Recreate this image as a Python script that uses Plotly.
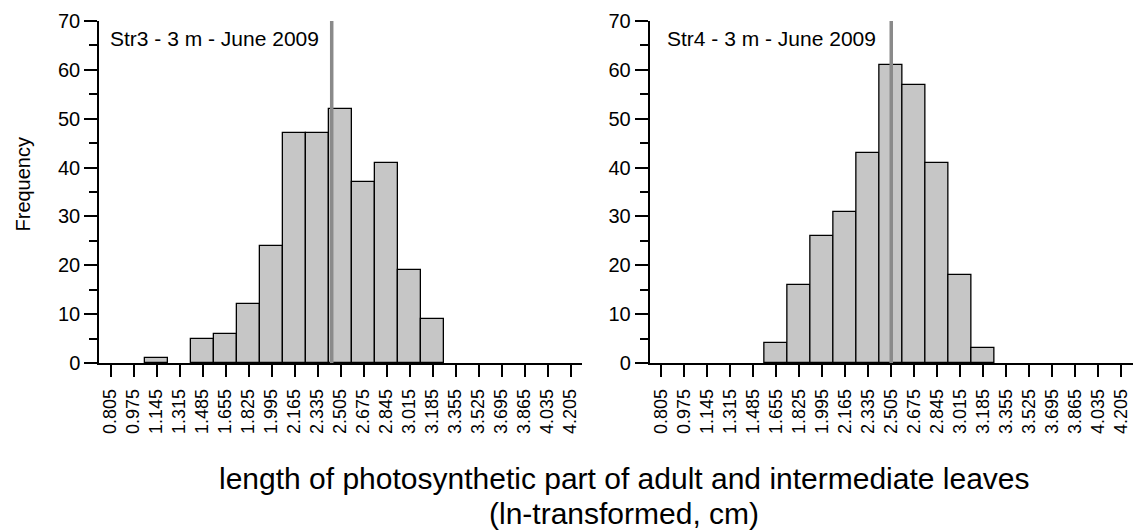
import plotly.graph_objects as go

# ---- data ----
bin_centers = [0.805, 0.975, 1.145, 1.315, 1.485, 1.655, 1.825, 1.995, 2.165, 2.335, 2.505,
               2.675, 2.845, 3.015, 3.185, 3.355, 3.525, 3.695, 3.865, 4.035, 4.205]
tick_labels = ["0.805", "0.975", "1.145", "1.315", "1.485", "1.655", "1.825", "1.995", "2.165",
               "2.335", "2.505", "2.675", "2.845", "3.015", "3.185", "3.355", "3.525", "3.695",
               "3.865", "4.035", "4.205"]
freq_str3 = [0, 0, 1, 0, 5, 6, 12, 24, 47, 47, 52, 37, 41, 19, 9, 0, 0, 0, 0, 0, 0]
freq_str4 = [0, 0, 0, 0, 0, 4, 16, 26, 31, 43, 61, 57, 41, 18, 3, 0, 0, 0, 0, 0, 0]
mean_lines = [2.44, 2.505]
panel_labels = ["Str3 - 3 m - June 2009", "Str4 - 3 m - June 2009"]
bin_width = 0.17

FONT = "Liberation Sans, Arial, sans-serif"
W, H = 1133, 531
ML, MR, MT, MB = 0, 0, 21, 168
plot_h = H - MT - MB

fig = go.Figure()
for i, (freq, xa, ya) in enumerate([(freq_str3, "x", "y"), (freq_str4, "x2", "y2")]):
    fig.add_trace(go.Bar(
        x=bin_centers, y=[v if v > 0 else None for v in freq], width=bin_width,
        marker=dict(color="#c6c6c6", line=dict(color="black", width=1.3)),
        xaxis=xa, yaxis=ya, showlegend=False, hoverinfo="skip",
    ))

xcommon = dict(range=[0.72, 4.29], tickvals=bin_centers, ticktext=tick_labels,
               tickangle=-90, ticks="outside", ticklen=12, tickwidth=1.5, tickcolor="black",
               showline=True, linecolor="black", linewidth=1.5, showgrid=False, zeroline=False,
               tickfont=dict(family=FONT, size=18, color="black"), ticklabelstandoff=5,
               automargin=False, fixedrange=True)
ycommon = dict(range=[0, 70], dtick=10, ticks="outside", ticklen=13, tickwidth=1.5,
               tickcolor="black", showline=True, linecolor="black", linewidth=1.5,
               showgrid=False, zeroline=False,
               minor=dict(dtick=5, ticks="outside", ticklen=8, tickwidth=1.5, tickcolor="black"),
               tickfont=dict(family=FONT, size=20, color="black"), automargin=False,
               fixedrange=True)

fig.update_layout(
    width=W, height=H,
    margin=dict(l=ML, r=MR, t=MT, b=MB),
    plot_bgcolor="white", paper_bgcolor="white",
    bargap=0,
    xaxis=dict(domain=[99 / W, 582 / W], anchor="y", **xcommon),
    yaxis=dict(anchor="x", **ycommon),
    xaxis2=dict(domain=[649.5 / W, 1.0], anchor="y2", **xcommon),
    yaxis2=dict(anchor="x2", **ycommon),
    font=dict(family=FONT, color="black"),
)

# mean lines
for xv, xr, yr in [(mean_lines[0], "x", "y domain"), (mean_lines[1], "x2", "y2 domain")]:
    fig.add_shape(type="line", xref=xr, yref=yr, x0=xv, x1=xv, y0=0, y1=1,
                  line=dict(color="#8a8a8a", width=3.5), layer="above")

# panel labels
fig.add_annotation(text=panel_labels[0], xref="x domain", yref="y domain", x=0.018, y=0.948,
                   xanchor="left", yanchor="middle", showarrow=False,
                   font=dict(family=FONT, size=21, color="black"))
fig.add_annotation(text=panel_labels[1], xref="x2 domain", yref="y2 domain", x=0.032, y=0.948,
                   xanchor="left", yanchor="middle", showarrow=False,
                   font=dict(family=FONT, size=21, color="black"))

# axis titles
fig.add_annotation(text="Frequency", xref="paper", yref="paper", x=22 / W,
                   y=(363 - 183.5) / plot_h, textangle=-90, showarrow=False,
                   xanchor="center", yanchor="middle",
                   font=dict(family=FONT, size=20, color="black"))
fig.add_annotation(text="length of photosynthetic part of adult and intermediate leaves",
                   xref="paper", yref="paper", x=624 / W, y=(363 - 478) / plot_h,
                   showarrow=False, xanchor="center", yanchor="middle",
                   font=dict(family=FONT, size=30, color="black"))
fig.add_annotation(text="(ln-transformed, cm)",
                   xref="paper", yref="paper", x=624 / W, y=(363 - 513) / plot_h,
                   showarrow=False, xanchor="center", yanchor="middle",
                   font=dict(family=FONT, size=30, color="black"))

fig.write_html("out.html", config={"displayModeBar": False},
               post_script="document.body.style.margin='0px';document.body.style.overflow='hidden';")
